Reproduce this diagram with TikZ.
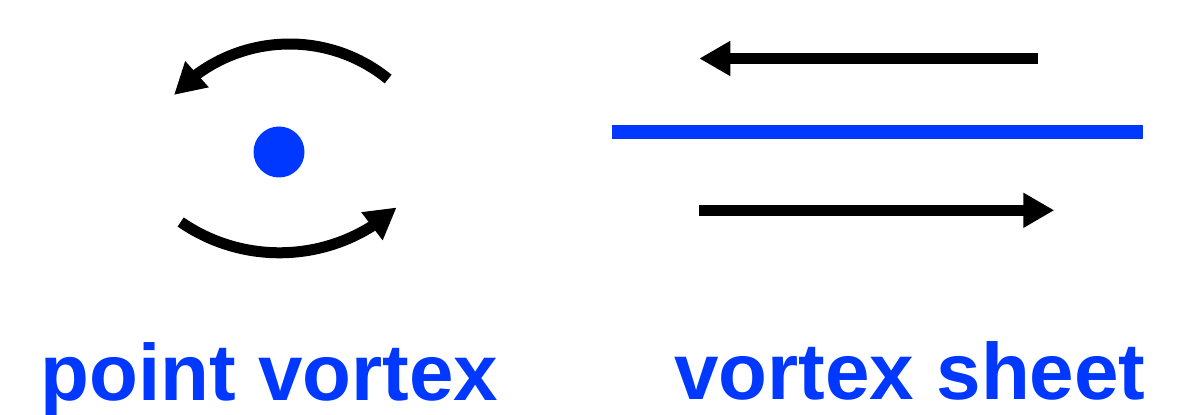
\documentclass[tikz,border=0pt]{standalone}
\usepackage{fontspec}
\setmainfont{Liberation Sans}
\usetikzlibrary{arrows.meta,bending}
\definecolor{vblue}{RGB}{0,56,255}
\tikzset{
  flow/.style={line width=11pt, black, -{Triangle[length=31pt, width=33pt]}},
  label/.style={text=vblue, font=\bfseries\fontsize{80}{96}\selectfont, inner sep=0pt, anchor=base},
}
\begin{document}
\begin{tikzpicture}[x=1pt,y=1pt]
  \useasboundingbox (0,0) rectangle (1195,415);

  % point vortex with circulating flow
  \node[circle, fill=vblue, minimum size=51pt, inner sep=0pt] (pv) at (279,263) {};
  \coordinate (topc) at (289.5,214.6);
  \coordinate (botc) at (279.5,336.2);
  \draw[flow] ([shift={(50.9:156.4)}]topc) arc[start angle=50.9, end angle=137.6, radius=156.4];
  \draw[flow] ([shift={(235.4:174)}]botc) arc[start angle=235.4, end angle=312.3, radius=174];

  % vortex sheet with opposite velocities on each side
  \coordinate (sl) at (612,283);
  \coordinate (sr) at (1143,283);
  \draw[vblue, line width=13.5pt] (sl) -- (sr);
  \coordinate (ua) at (1037.5,356.5);
  \coordinate (ub) at (699.3,356.5);
  \draw[flow] (ua) -- (ub);
  \coordinate (la) at (699.3,204.7);
  \coordinate (lb) at (1054.3,204.7);
  \draw[flow] (la) -- (lb);

  % captions
  \node[label] (cap1) at (269.5,14.3) {point vortex};
  \node[label] (cap2) at (910,15) {vortex sheet};
\end{tikzpicture}
\end{document}
